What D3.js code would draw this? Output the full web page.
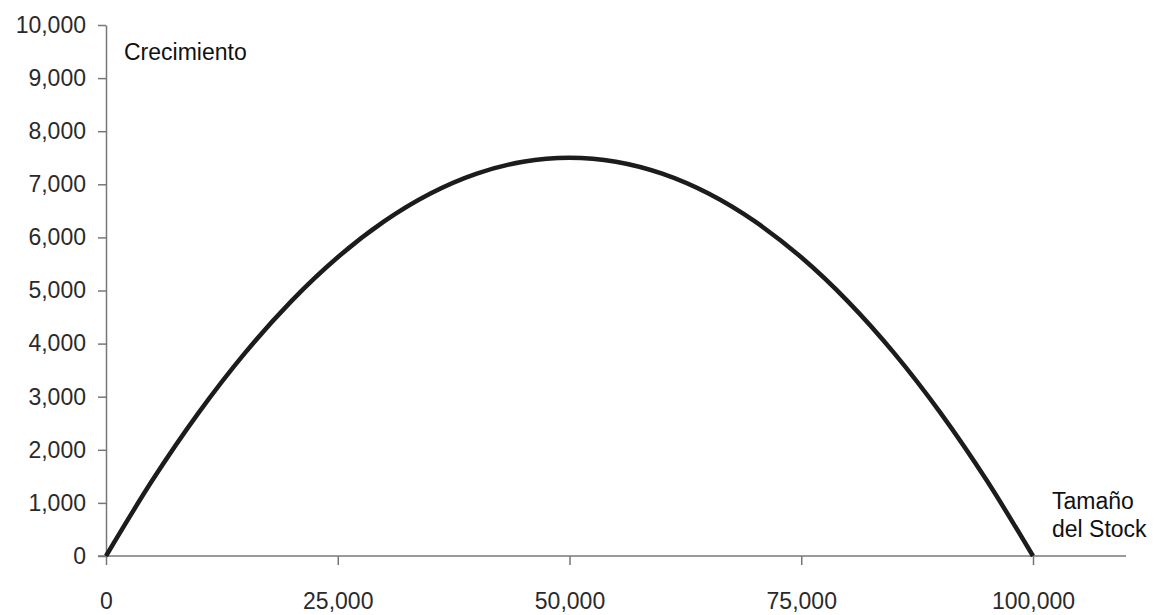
<!DOCTYPE html>
<html><head><meta charset="utf-8">
<script src="https://cdn.jsdelivr.net/npm/d3@7"></script>
<style>body{margin:0;background:#fff}svg{display:block;font-family:"Liberation Sans",Arial,sans-serif}</style>
</head><body><svg id="c" width="1160" height="615"></svg>
<script>
const stock = [0,5000,10000,15000,20000,25000,30000,35000,40000,45000,50000,55000,60000,65000,70000,75000,80000,85000,90000,95000,100000];
const growth = [0,1425,2700,3825,4800,5625,6300,6825,7200,7425,7500,7425,7200,6825,6300,5625,4800,3825,2700,1425,0];
const xTicks = [0,25000,50000,75000,100000];
const yTicks = [0,1000,2000,3000,4000,5000,6000,7000,8000,9000,10000];
const yLabel = "Crecimiento";
const xLabel = ["Tamaño","del Stock"];

const svg = d3.select("#c");
const x = d3.scaleLinear().domain([0,100000]).range([106,1033]);
const y = d3.scaleLinear().domain([0,10000]).range([556,25]);
const fmt = d3.format(",");
const axisCol = "#777";
const fnt = "'Liberation Sans',Arial,sans-serif";

const gx = svg.append("g").attr("transform",`translate(0,${y(0)})`)
  .call(d3.axisBottom(x).tickValues(xTicks).tickFormat(fmt).tickSize(9).tickSizeOuter(0).tickPadding(28));
gx.select(".domain").remove();
gx.append("line").attr("x1",98).attr("x2",1126).attr("stroke",axisCol).attr("stroke-width",1.5);
gx.selectAll(".tick line").attr("stroke",axisCol).attr("stroke-width",1.5);
gx.selectAll(".tick text").attr("fill","#2a2a2a").style("font-size","23px").style("font-family",fnt);

const gy = svg.append("g").attr("transform",`translate(${x(0)},0)`)
  .call(d3.axisLeft(y).tickValues(yTicks).tickFormat(fmt).tickSize(8).tickSizeOuter(0).tickPadding(12));
gy.select(".domain").attr("stroke",axisCol).attr("stroke-width",1.5);
gy.selectAll(".tick line").attr("stroke",axisCol).attr("stroke-width",1.5);
gy.selectAll(".tick text").attr("fill","#2a2a2a").style("font-size","23px").style("font-family",fnt);

const line = d3.line().x((d,i)=>x(stock[i])).y(d=>y(d)).curve(d3.curveMonotoneX);
svg.append("path").datum(growth).attr("d",line).attr("fill","none")
  .attr("stroke","#1c1c1c").attr("stroke-width",4.5).attr("stroke-linejoin","round");

svg.append("text").attr("x",124).attr("y",60).text(yLabel).attr("fill","#111").style("font-size","23px");
svg.append("text").attr("x",1052).attr("y",509).text(xLabel[0]).attr("fill","#111").style("font-size","23px");
svg.append("text").attr("x",1052).attr("y",537).text(xLabel[1]).attr("fill","#111").style("font-size","23px");
</script></body></html>
